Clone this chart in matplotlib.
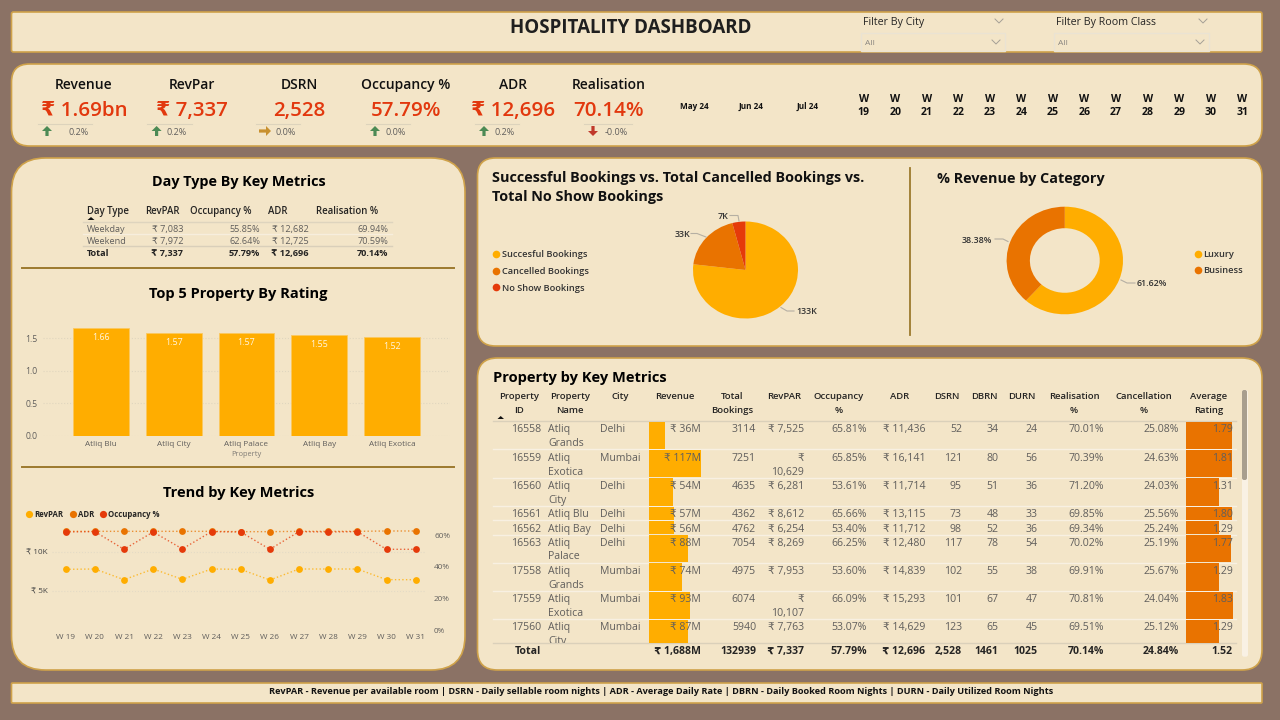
import matplotlib
matplotlib.use('Agg')
import matplotlib.pyplot as plt
from matplotlib.patches import FancyBboxPatch, Rectangle, Polygon

plt.rcParams['font.family'] = ['Open Sans', 'DejaVu Sans']

# ---------- data ----------
kpi_names = ['Revenue', 'RevPar', 'DSRN', 'Occupancy %', 'ADR', 'Realisation']
kpi_values = ['₹ 1.69bn', '₹ 7,337', '2,528', '57.79%', '₹ 12,696', '70.14%']
kpi_deltas = ['0.2%', '0.2%', '0.0%', '0.0%', '0.2%', '-0.0%']
kpi_dirs = ['up', 'up', 'flat', 'up', 'up', 'down']
months = ['May 24', 'Jun 24', 'Jul 24']
week_nums = ['19', '20', '21', '22', '23', '24', '25', '26', '27', '28', '29', '30', '31']

daytype_rows = [
    ['Weekday', '₹ 7,083', '55.85%', '₹ 12,682', '69.94%'],
    ['Weekend', '₹ 7,972', '62.64%', '₹ 12,725', '70.59%'],
    ['Total', '₹ 7,337', '57.79%', '₹ 12,696', '70.14%'],
]
top_props = ['Atliq Blu', 'Atliq City', 'Atliq Palace', 'Atliq Bay', 'Atliq Exotica']
top_ratings = [1.66, 1.57, 1.57, 1.55, 1.52]

week_labels = ['W ' + w for w in week_nums]
trend_revpar = [7816, 7859, 6491, 7859, 6534, 7859, 7816, 6449, 7859, 7859, 7859, 6491, 6491]
trend_adr = [12688, 12688, 12688, 12688, 12688, 12688, 12645, 12645, 12688, 12688, 12688, 12731, 12731]
trend_occ = [62.1, 62.3, 51.15, 62.1, 51.4, 62.3, 62.1, 51.15, 62.3, 62.1, 62.3, 51.15, 51.15]

booking_labels = ['Succesful Bookings', 'Cancelled Bookings', 'No Show Bookings']
booking_values = [133, 33, 7]
category_labels = ['Luxury', 'Business']
category_values = [61.62, 38.38]

prop_id = ['16558', '16559', '16560', '16561', '16562', '16563', '17558', '17559', '17560']
prop_name = ['Atliq\nGrands', 'Atliq\nExotica', 'Atliq\nCity', 'Atliq Blu', 'Atliq Bay',
             'Atliq\nPalace', 'Atliq\nGrands', 'Atliq\nExotica', 'Atliq\nCity']
prop_city = ['Delhi', 'Mumbai', 'Delhi', 'Delhi', 'Delhi', 'Delhi', 'Mumbai', 'Mumbai', 'Mumbai']
prop_revenue = [36, 117, 54, 57, 56, 88, 74, 93, 87]
prop_bookings = ['3114', '7251', '4635', '4362', '4762', '7054', '4975', '6074', '5940']
prop_revpar = ['₹ 7,525', '₹\n10,629', '₹ 6,281', '₹ 8,612', '₹ 6,254', '₹ 8,269', '₹ 7,953', '₹\n10,107', '₹ 7,763']
prop_occ = ['65.81%', '65.85%', '53.61%', '65.66%', '53.40%', '66.25%', '53.60%', '66.09%', '53.07%']
prop_adr = ['₹ 11,436', '₹ 16,141', '₹ 11,714', '₹ 13,115', '₹ 11,712', '₹ 12,480', '₹ 14,839', '₹ 15,293', '₹ 14,629']
prop_dsrn = ['52', '121', '95', '73', '98', '117', '102', '101', '123']
prop_dbrn = ['34', '80', '51', '48', '52', '78', '55', '67', '65']
prop_durn = ['24', '56', '36', '33', '36', '54', '38', '47', '45']
prop_real = ['70.01%', '70.39%', '71.20%', '69.85%', '69.34%', '70.02%', '69.91%', '70.81%', '69.51%']
prop_canc = ['25.08%', '24.63%', '24.03%', '25.56%', '25.24%', '25.19%', '25.67%', '24.04%', '25.12%']
prop_rating = [1.79, 1.81, 1.31, 1.80, 1.29, 1.77, 1.29, 1.83, 1.29]
table_totals = ['Total', '₹ 1,688M', '132939', '₹ 7,337', '57.79%', '₹ 12,696', '2,528', '1461', '1025', '70.14%', '24.84%', '1.52']

footer_text = ('RevPAR - Revenue per available room | DSRN - Daily sellable room nights | ADR - Average Daily Rate | '
               'DBRN - Daily Booked Room Nights | DURN - Daily Utilized Room Nights')

# ---------- style ----------
BG = '#8B7265'
PANEL = '#F3E5C8'
EDGE = '#CFA24A'
YEL = '#FFAD00'
ORG = '#E97300'
RED = '#E53A0A'
KPI_RED = '#E2380E'
INK = '#111111'
GREY = '#605E5C'
W, H = 1280, 720
TEXT_SHIFT = 0.9

fig = plt.figure(figsize=(12.8, 7.2), dpi=100, facecolor=BG)


def px_axes(x0, y0, x1, y1, z=2):
    a = fig.add_axes([x0 / W, 1 - y1 / H, (x1 - x0) / W, (y1 - y0) / H], zorder=z)
    a.patch.set_alpha(0)
    return a


base = px_axes(0, 0, W, H, 0)
base.set_xlim(0, W)
base.set_ylim(H, 0)
base.axis('off')
top = px_axes(0, 0, W, H, 5)
top.set_xlim(0, W)
top.set_ylim(H, 0)
top.axis('off')


def T(x, y, s, px, weight='normal', color=INK, ha='center', a=None, **kw):
    return (a or top).text(x, y + TEXT_SHIFT, s, fontsize=px * 0.72, fontweight=weight, color=color,
                           ha=ha, va='center', **kw)


def panel(x0, y0, x1, y1, r):
    base.add_patch(FancyBboxPatch((x0, y0), x1 - x0, y1 - y0,
                                  boxstyle=f'round,pad=0,rounding_size={r}',
                                  fc=PANEL, ec=EDGE, lw=1.2))


panel(11.5, 12, 1262, 52, 2)
panel(11.5, 64, 1262, 146, 18)
panel(11.5, 158, 465, 670, 34)
panel(477.5, 158, 1262, 346, 18)
panel(477.5, 358, 1262, 670, 20)
panel(11.5, 683, 1262, 703, 1)

# ---------- header ----------
T(631, 27.5, 'HOSPITALITY DASHBOARD', 18.8, 'bold', '#1F1F1F')
for x, lab, bx0, bx1 in [(863, 'Filter By City', 860.5, 1005), (1056, 'Filter By Room Class', 1054, 1209)]:
    T(x, 21.5, lab, 10.6, ha='left', color='#252423')
    base.add_patch(Rectangle((bx0, 33), bx1 - bx0, 17.5, fc='none', ec='#EAE3D3', lw=1))
    T(bx0 + 4.5, 43, 'All', 8.5, ha='left', color='#8A8680')
    for cx, cy in [(bx1 - 9, 42), (bx1 - 6, 21)]:
        top.plot([cx - 4, cx, cx + 4], [cy - 2, cy + 2, cy - 2], color='#A5A096', lw=0.7)

# ---------- KPI strip ----------
kpi_x = [84, 192, 299, 405.7, 512.6, 608.6]
arrow_x = [47, 156.6, 265, 375, 484, 593]
delta_x = [78.7, 177, 286, 395.6, 504.6, 616.6]
sep_x = [(38, 92), (147, 191.5), (256, 300), (366, 410), (475, 518.5), (584, 632)]


def arrow(cx, cy, kind):
    s = 5.0
    if kind == 'up':
        pts = [(0, -s), (s, 0), (1.6, 0), (1.6, s), (-1.6, s), (-1.6, 0), (-s, 0)]
        col = '#4C8A55'
    elif kind == 'down':
        pts = [(0, s), (s, 0), (1.6, 0), (1.6, -s), (-1.6, -s), (-1.6, 0), (-s, 0)]
        col = '#C0392B'
    else:
        pts = [(s + 1, 0), (1, -s), (1, -1.6), (-s - 1, -1.6), (-s - 1, 1.6), (1, 1.6), (1, s)]
        col = '#C8902E'
    top.add_patch(Polygon([(cx + a, cy + b) for a, b in pts], closed=True, fc=col, ec='none'))


for i in range(6):
    T(kpi_x[i], 84, kpi_names[i], 13.9, 'semibold')
    T(kpi_x[i], 110, kpi_values[i], 20.5, 'semibold', KPI_RED)
    top.plot(sep_x[i], [124, 124], color='#DDD3BC', lw=0.8)
    arrow(arrow_x[i], 131, kpi_dirs[i])
    T(delta_x[i], 131.5, kpi_deltas[i], 9, color=GREY)

for x, m in zip([694.7, 751.4, 808], months):
    T(x, 106, m, 8.2, 'bold')
for i, w in enumerate(week_nums):
    x = 863.7 + i * 31.55
    T(x, 99, 'W', 10.5, 'bold')
    T(x, 112, w, 10.5, 'bold')

# ---------- day type table ----------
T(238.5, 181.5, 'Day Type By Key Metrics', 14.45, 'bold', '#000000')
for x, lab in zip([87, 145, 190.5, 268, 316], ['Day Type', 'RevPAR', 'Occupancy %', 'ADR', 'Realisation %']):
    T(x, 210.5, lab, 9.6, 'semibold', '#252423', ha='left')
top.add_patch(Polygon([(87.5, 220), (94.5, 220), (91, 217)], fc='#111111', ec='none'))
dt_right = [None, 183, 260, 308.5, 388.5]
for ri, (row, y) in enumerate(zip(daytype_rows, [228.5, 240.8, 252.5])):
    is_tot = ri == 2
    col = '#252423' if is_tot else GREY
    wt = 'bold' if is_tot else 'normal'
    T(87, y, row[0], 9.2, wt, col, ha='left')
    for v, rx in zip(row[1:], dt_right[1:]):
        T(rx, y, v, 9.2, wt, col, ha='right')
for y, c in [(222.3, '#DED4BE'), (234.3, '#F7EEDD'), (246.3, '#D9CFBA')]:
    base.plot([83, 392], [y, y], color=c, lw=1)
base.plot([22, 454], [267.7, 267.7], color='#9C7A2E', lw=1.4)
base.plot([22, 454], [467, 467], color='#9C7A2E', lw=1.4)

# ---------- top 5 bars ----------
T(238, 293.5, 'Top 5 Property By Rating', 14.6, 'bold', '#000000')
ax = px_axes(43, 320, 450, 436)
ax.bar(range(5), top_ratings, width=0.77, color=YEL, edgecolor='#FBC860', linewidth=0.6, zorder=3)
ax.set_xlim(-0.8, 4.8)
ax.set_ylim(0, 116 / 65.3)
ax.set_yticks([0, 0.5, 1.0, 1.5])
ax.set_yticklabels(['0.0', '0.5', '1.0', '1.5'], fontsize=6.2, color=GREY)
ax.set_xticks(range(5))
ax.set_xticklabels(top_props, fontsize=5.9, color=GREY)
ax.tick_params(length=0, pad=3.5)
ax.tick_params(axis='y', pad=4)
ax.grid(axis='y', color='#E0D6BF', ls=':', lw=0.8, zorder=0)
for s in ax.spines.values():
    s.set_visible(False)
ax.set_xlabel('Property', fontsize=5.4, color='#7F7B75', labelpad=2.5)
for i, v in enumerate(top_ratings):
    ax.text(i, v - 0.145, f'{v:.2f}', color='#FFF6E0', fontsize=6.4, ha='center', va='center', zorder=4)

# ---------- trend ----------
T(238.5, 492, 'Trend by Key Metrics', 14.6, 'bold', '#000000')
for dx, tx, lab, c in [(29, 34.7, 'RevPAR', YEL), (73, 78, 'ADR', ORG), (102.7, 108.3, 'Occupancy %', RED)]:
    top.plot([dx], [513.7], 'o', ms=5.2, color=c, mec='none')
    T(tx, 513.5, lab, 7.8, 'bold', '#252423', ha='left')
ax = px_axes(52, 520, 425, 630.3, 2)
xs = list(range(13))
ax2 = ax.twinx()
ax2.patch.set_alpha(0)
ax.plot(xs, trend_adr, ls=':', lw=1.0, color=ORG, alpha=0.75)
ax.plot(xs, trend_adr, ls='none', marker='o', ms=4.9, color=ORG, mec='none')
ax.plot(xs, trend_revpar, ls=':', lw=1.0, color=YEL, alpha=0.75)
ax.plot(xs, trend_revpar, ls='none', marker='o', ms=4.9, color=YEL, mec='none')
ax2.plot(xs, trend_occ, ls=':', lw=1.0, color=RED, alpha=0.75)
ax2.plot(xs, trend_occ, ls='none', marker='o', ms=4.9, color=RED, mec='none')
ax.set_xlim(-0.47, 12.32)
ax.set_ylim(0, 110.3 / 39 * 5000)
ax2.set_ylim(0, 110.3 / 31.67 * 20)
ax.set_yticks([5000, 10000])
ax.set_yticklabels(['₹ 5K', '₹ 10K'], fontsize=5.9, color='#444444')
ax2.set_yticks([0, 20, 40, 60])
ax2.set_yticklabels(['0%', '20%', '40%', '60%'], fontsize=5.9, color=GREY)
ax.set_xticks(xs)
ax.set_xticklabels(week_labels, fontsize=5.9, color=GREY)
ax.tick_params(length=0)
ax.tick_params(axis='y', pad=3)
ax.tick_params(axis='x', pad=3)
ax2.tick_params(length=0, pad=6.5)
ax.grid(axis='y', color='#E4DBC6', ls=':', lw=0.8)
for a_ in (ax, ax2):
    for s in a_.spines.values():
        s.set_visible(False)

# ---------- pies ----------
T(492, 177.5, 'Successful Bookings vs. Total Cancelled Bookings vs.', 14.45, 'bold', ha='left')
T(492, 196.5, 'Total No Show Bookings', 14.45, 'bold', ha='left')
T(936.6, 178, '% Revenue by Category', 14.45, 'bold', ha='left')
base.plot([909.7, 909.7], [168, 335], color='#9C7A2E', lw=1.3)

ax = px_axes(693, 221.5, 798, 318.5)
ax.pie(booking_values, colors=[YEL, ORG, RED], startangle=90, counterclock=False, radius=1)
ax.set_aspect('auto')
ax.set_xlim(-1, 1)
ax.set_ylim(-1, 1)

ax = px_axes(1006.6, 206.7, 1123, 314.3)
ax.pie(category_values, colors=[YEL, ORG], startangle=90, counterclock=False, radius=1,
       wedgeprops={'width': 0.4})
ax.set_aspect('auto')
ax.set_xlim(-1, 1)
ax.set_ylim(-1, 1)

for pts in [([781, 787, 794], [307.5, 311, 311]), ([691, 697, 706], [233.5, 233.5, 237]),
            ([730, 738, 739], [215.5, 215.5, 221]), ([995, 1003, 1008], [239, 239, 241.5]),
            ([1121, 1127, 1135], [280, 283, 283])]:
    top.plot(pts[0], pts[1], color='#B5AFA3', lw=0.8)
for x, y, s, ha in [(796.5, 311, '133K', 'left'), (690, 234, '33K', 'right'), (728, 216, '7K', 'right'),
                    (992, 240, '38.38%', 'right'), (1137, 283, '61.62%', 'left')]:
    T(x, y, s, 8.9, 'semibold', '#333333', ha=ha)
for y, lab, c in zip([254, 270.7, 287.3], booking_labels, [YEL, ORG, RED]):
    top.plot([496.4], [y], 'o', ms=5.5, color=c, mec='none')
    T(501.5, y, lab, 9.3, 'semibold', '#333333', ha='left')
for y, lab, c in zip([253.5, 269.7], category_labels, [YEL, ORG]):
    top.plot([1197.5], [y], 'o', ms=5.5, color=c, mec='none')
    T(1203.5, y, lab, 9.3, 'semibold', '#333333', ha='left')

# ---------- property table ----------
T(493, 377, 'Property by Key Metrics', 14.6, 'bold', '#000000', ha='left')
row_edges = [421, 449.3, 477.7, 506, 520.3, 534.7, 562.7, 591, 619.3, 647.6]
row_text_y = [429, 457.7, 485.7, 513.7, 528.3, 542.3, 571, 599, 627]
row_mid = [(row_edges[i] + row_edges[i + 1]) / 2 for i in range(9)]
row_h = [row_edges[i + 1] - row_edges[i] - 1 for i in range(9)]

headers = [(518.7, 'Property\nID'), (570, 'Property\nName'), (620.7, 'City'), (675, 'Revenue'),
           (732, 'Total\nBookings'), (783.7, 'RevPAR'), (838.7, 'Occupancy\n%'), (899.3, 'ADR'),
           (947, 'DSRN'), (984, 'DBRN'), (1022, 'DURN'), (1074, 'Realisation\n%'),
           (1144, 'Cancellation\n%'), (1209, 'Average\nRating')]
for x, h in headers:
    for k, part in enumerate(h.split('\n')):
        T(x, 395.7 + k * 13.6, part, 9.5, 'semibold', '#252423')
top.add_patch(Polygon([(497.5, 419), (504, 419), (500.7, 416)], fc='#111111', ec='none'))

base.plot([493, 1236], [421, 421], color='#DAD0BA', lw=1)
base.plot([493, 1236], [643.3, 643.3], color='#DAD0BA', lw=1)
for y in row_edges[1:-1]:
    base.plot([493, 1236], [y, y], color='#F8F0E2', lw=1)

ax_rev = px_axes(649.3, 421, 701, 643.3, 2)
ax_rev.barh(row_mid, prop_revenue, height=row_h, color=YEL)
ax_rev.set_xlim(0, 117)
ax_rev.set_ylim(643.3, 421)
ax_rev.axis('off')
ax_rat = px_axes(1185.7, 421, 1232.7, 643.3, 2)
ax_rat.barh(row_mid, prop_rating, height=row_h, color=ORG)
ax_rat.set_xlim(0, 1.83)
ax_rat.set_ylim(643.3, 421)
ax_rat.axis('off')

body = px_axes(480, 421, 1241, 643.3, 4)
body.set_xlim(480, 1241)
body.set_ylim(643.3, 421)
body.axis('off')
LINE = 13.6


def cell(x, y, s, ha='right'):
    for k, part in enumerate(s.split('\n')):
        t = T(x, y + k * LINE, part, 10.5, color=GREY, ha=ha, a=body)
        t.set_clip_on(True)


columns_right = [(541, prop_id), (701, [f'₹ {v}M' for v in prop_revenue]), (756, prop_bookings),
                 (804, prop_revpar), (866.7, prop_occ), (925.3, prop_adr), (962, prop_dsrn),
                 (998.7, prop_dbrn), (1037.7, prop_durn), (1104, prop_real), (1178.7, prop_canc),
                 (1232.7, [f'{v:.2f}' for v in prop_rating])]
for i, y in enumerate(row_text_y):
    cell(548, y, prop_name[i], 'left')
    cell(600, y, prop_city[i], 'left')
    for rx, col in columns_right:
        cell(rx, y, col[i])

total_x = [541, 701, 756, 804, 866.7, 925.3, 962, 998.7, 1037.7, 1104, 1178.7, 1232.7]
for x, s, in zip(total_x, table_totals):
    T(x, 651, s, 10.5, 'bold', '#252423', ha='right')

base.add_patch(FancyBboxPatch((1242, 390), 6, 266.7, boxstyle='round,pad=0,rounding_size=2', fc='#F9F1E4', ec='none'))
top.add_patch(FancyBboxPatch((1242, 390), 5, 90, boxstyle='round,pad=0,rounding_size=2', fc='#A89E8E', ec='none'))

# ---------- footer ----------
T(661, 691, footer_text, 9.12, 'bold', '#111111')

fig.savefig('out.png', dpi=100, facecolor=BG)
